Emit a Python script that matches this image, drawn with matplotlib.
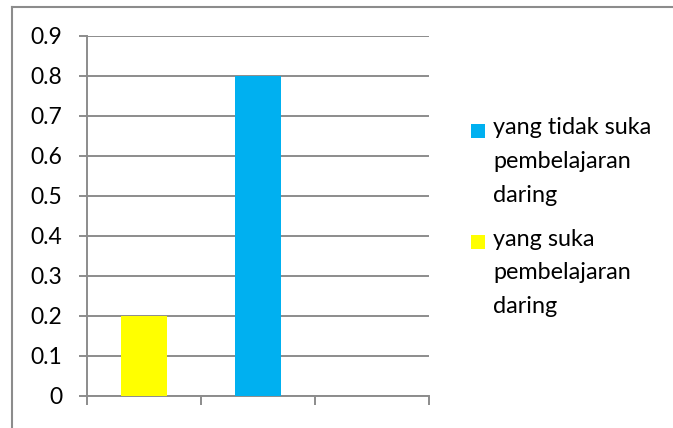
import matplotlib
matplotlib.use("Agg")
import matplotlib.pyplot as plt
from matplotlib.patches import Rectangle
from matplotlib.lines import Line2D

# ---- data ----
categories = ["1", "2", "3"]
suka = [0.2, 0.0, 0.0]          # yang suka pembelajaran daring
tidak_suka = [0.0, 0.8, 0.0]    # yang tidak suka pembelajaran daring
y_ticks = [0, 0.1, 0.2, 0.3, 0.4, 0.5, 0.6, 0.7, 0.8, 0.9]
y_tick_labels = ["0", "0.1", "0.2", "0.3", "0.4", "0.5", "0.6", "0.7", "0.8", "0.9"]
legend_labels = ["yang tidak suka\npembelajaran\ndaring",
                 "yang suka\npembelajaran\ndaring"]

plt.rcParams['font.family'] = ['Lato', 'DejaVu Sans']

W, H = 673, 428
DPI = 100
fig = plt.figure(figsize=(W / DPI, H / DPI), dpi=DPI)
fig.patch.set_facecolor("white")

def fx(px):
    return px / W

def fy(py):
    return 1 - py / H

ax_left, ax_right, ax_top, ax_bottom = 87, 429, 36, 396
ax = fig.add_axes([fx(ax_left), fy(ax_bottom), (ax_right - ax_left) / W, (ax_bottom - ax_top) / H])

gray = "#8c8c8c"
blue = "#00B0F0"
yellow = "#FFFF00"

x = list(range(len(categories)))
ax.bar(x, suka, width=0.4, color=yellow, zorder=3)
ax.bar(x, tidak_suka, width=0.4, color=blue, zorder=3)

ax.set_xlim(-0.5, len(categories) - 0.5)
ax.set_ylim(0, 0.9)
ax.set_yticks(y_ticks)
ax.set_yticklabels(y_tick_labels)
ax.set_xticks([i - 0.5 for i in range(len(categories) + 1)])
ax.set_xticklabels([])

ax.grid(axis="y", color=gray, linewidth=1.4, zorder=0)
ax.set_axisbelow(True)
for s in ["top", "right"]:
    ax.spines[s].set_visible(False)
for s in ["left", "bottom"]:
    ax.spines[s].set_color(gray)
    ax.spines[s].set_linewidth(1.4)

ax.tick_params(axis="y", length=6, width=1.4, color=gray, pad=12, labelsize=16.5, labelcolor="black")
ax.tick_params(axis="x", length=6.5, width=1.4, color=gray)

# ---- chart border (only left and top visible in crop) ----
fig.add_artist(Line2D([fx(12), fx(12)], [fy(7), 0], color=gray, linewidth=1.5))
fig.add_artist(Line2D([fx(12), 1], [fy(7), fy(7)], color=gray, linewidth=1.5))

# ---- legend ----
colors = [blue, yellow]
square_tops = [124, 235]
last_baselines = [202, 313]   # va='baseline' aligns the last line of multi-line text
for lab, col, top, base in zip(legend_labels, colors, square_tops, last_baselines):
    fig.add_artist(Rectangle((fx(471), fy(top + 14)), 14 / W, 14 / H,
                             facecolor=col, edgecolor="none", transform=fig.transFigure))
    fig.text(fx(493), fy(base), lab, ha="left", va="baseline", fontsize=16.8,
             linespacing=1.75, color="black")

fig.savefig("out.png", dpi=DPI)
